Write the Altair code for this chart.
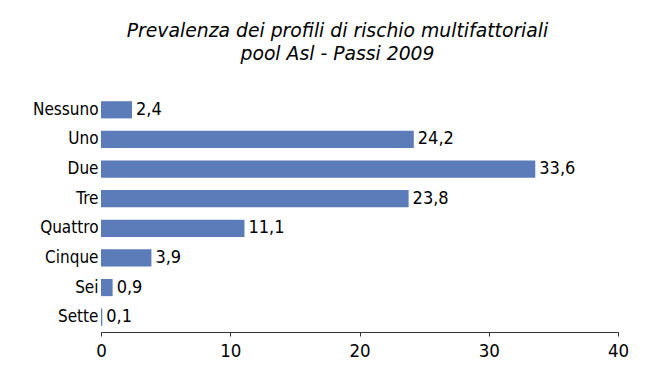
import altair as alt
import pandas as pd

categories = ["Nessuno", "Uno", "Due", "Tre", "Quattro", "Cinque", "Sei", "Sette"]
values = [2.4, 24.2, 33.6, 23.8, 11.1, 3.9, 0.9, 0.1]
x_ticks = [0, 10, 20, 30, 40]

df = pd.DataFrame({
    "cat": categories,
    "val": values,
    "lab": [f"{v:.1f}".replace(".", ",") for v in values],
})

FONT = "DejaVu Sans Condensed"

y_enc = alt.Y("cat:N", sort=categories,
              scale=alt.Scale(paddingInner=0.42, paddingOuter=0.21),
              axis=alt.Axis(title=None, domain=False, ticks=False, labelPadding=3,
                            labelFont=FONT, labelFontSize=17, labelColor="black"))
x_enc = alt.X("val:Q", scale=alt.Scale(domain=[0, 40], nice=False),
              axis=alt.Axis(title=None, values=x_ticks, grid=False, domainColor="#333333",
                            tickColor="#333333", tickSize=4, labelPadding=5,
                            labelFont=FONT, labelFontSize=18.5, labelColor="black",
                            labelFlush=False))

bars = alt.Chart(df).mark_bar(color="#5B7CB8").encode(x=x_enc, y=y_enc)
text = alt.Chart(df).mark_text(align="left", baseline="middle", dx=4, font=FONT,
                               fontSize=18, color="black").encode(
    x="val:Q", y=alt.Y("cat:N", sort=categories), text="lab:N")

chart = (bars + text).properties(
    width=517, height=237,
    autosize=alt.AutoSizeParams(type="none"),
    padding={"left": 93, "top": 87, "right": 34, "bottom": 42},
    title=alt.TitleParams(
        text=["Prevalenza dei profili di rischio multifattoriali", "pool Asl - Passi 2009"],
        font="DejaVu Sans", fontSize=18.8, fontStyle="italic", fontWeight="normal",
        color="black", lineHeight=23, anchor="middle", dx=-22, offset=31),
).configure(background="white").configure_view(strokeWidth=0)

chart.save("out.html", embed_options={"renderer": "svg", "actions": False})
